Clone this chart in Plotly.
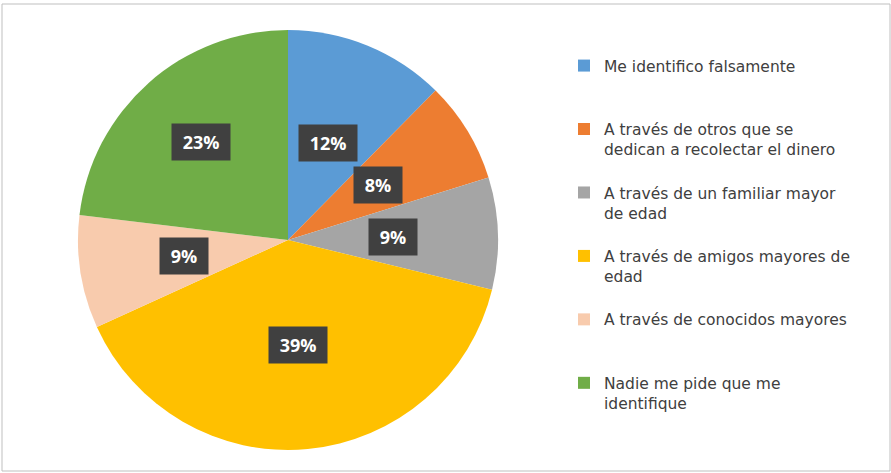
import math
import plotly.graph_objects as go

# ---- data ----
categories = [
    "Me identifico falsamente",
    "A través de otros que se dedican a recolectar el dinero",
    "A través de un familiar mayor de edad",
    "A través de amigos mayores de edad",
    "A través de conocidos mayores",
    "Nadie me pide que me identifique",
]
legend_labels = [
    "Me identifico falsamente<br>&nbsp;<br>&nbsp;",
    "A través de otros que se<br>dedican a recolectar el dinero<br>&nbsp;",
    "A través de un familiar mayor<br>de edad<br>&nbsp;",
    "A través de amigos mayores de<br>edad<br>&nbsp;",
    "A través de conocidos mayores<br>&nbsp;<br>&nbsp;",
    "Nadie me pide que me<br>identifique",
]
values = [12.4, 7.8, 8.6, 39.4, 8.7, 23.1]
colors = ["#5B9BD5", "#ED7D31", "#A5A5A5", "#FFC000", "#F8CBAD", "#70AD47"]

# style: radial placement of each data label (fraction of radius)
label_radius = [0.5, 0.5, 0.5, 0.5, 0.5, 0.625]

W, H = 891, 473
cx_px, cy_px, R_px = 288, 240, 210
dom_x = [(cx_px - R_px) / W, (cx_px + R_px) / W]
dom_y = [1 - (cy_px + R_px) / H, 1 - (cy_px - R_px) / H]

fig = go.Figure(go.Pie(
    labels=legend_labels,
    values=values,
    sort=False,
    direction="clockwise",
    rotation=0,
    marker=dict(colors=colors, line=dict(width=0)),
    textinfo="none",
    hoverinfo="label+percent",
    domain=dict(x=dom_x, y=dom_y),
))

total = sum(values)
cum = 0.0
annotations = []
for v, rf in zip(values, label_radius):
    mid = (cum + v / 2) / total * 2 * math.pi
    cum += v
    r = rf * R_px
    px = cx_px + r * math.sin(mid)
    py = cy_px - r * math.cos(mid)
    annotations.append(dict(
        x=px / W, y=1 - py / H, xref="paper", yref="paper",
        text=f"&nbsp;<b>{round(v / total * 100)}%</b>&nbsp;", showarrow=False,
        font=dict(family="Open Sans", size=18, color="white"),
        bgcolor="#404040", borderpad=6,
        xanchor="center", yanchor="middle",
    ))

fig.update_layout(
    width=W, height=H,
    margin=dict(l=0, r=0, t=0, b=0),
    paper_bgcolor="white",
    plot_bgcolor="white",
    showlegend=True,
    legend=dict(
        x=564 / W, y=1 - 49 / H, xanchor="left", yanchor="top",
        font=dict(family="DejaVu Sans", size=15.5, color="#404040"),
        valign="top", itemwidth=30,
        tracegroupgap=0,
    ),
    annotations=annotations,
    shapes=[dict(
        type="rect", xref="paper", yref="paper",
        x0=2 / W, x1=890 / W, y0=1 - 471 / H, y1=1 - 4 / H,
        line=dict(color="#BFBFBF", width=1),
    )],
)

fig.write_html("out.html", config={"displayModeBar": False},
               post_script="document.body.style.margin='0';")
